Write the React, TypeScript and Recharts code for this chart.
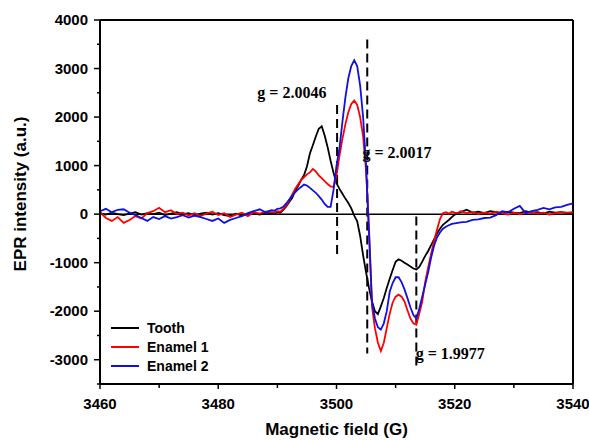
import { LineChart, Line, XAxis, YAxis, ReferenceLine, ReferenceDot, Label } from 'recharts';

// magnetic field (G)
const field = [
  3460, 3461, 3462, 3463, 3464, 3465, 3466, 3467, 3468, 3469,
  3470, 3471, 3472, 3473, 3474, 3475, 3476, 3477, 3478, 3479,
  3480, 3481, 3482, 3483, 3484, 3485, 3486, 3487, 3488, 3489,
  3489.5, 3490, 3490.5, 3491, 3491.5, 3492, 3492.5, 3493, 3493.5, 3494,
  3494.5, 3495, 3495.5, 3496, 3496.5, 3497, 3497.5, 3498, 3498.5, 3499,
  3499.5, 3500, 3500.5, 3501, 3501.5, 3502, 3502.5, 3503, 3503.5, 3504,
  3504.5, 3505, 3505.5, 3506, 3506.5, 3507, 3507.5, 3508, 3508.5, 3509,
  3509.5, 3510, 3510.5, 3511, 3511.5, 3512, 3512.5, 3513, 3513.5, 3514,
  3514.5, 3515, 3515.5, 3516, 3516.5, 3517, 3517.5, 3518, 3518.5, 3519,
  3519.5, 3520, 3520.5, 3521,
  3522, 3523, 3524, 3525, 3526, 3527, 3528, 3529, 3530, 3531,
  3532, 3533, 3534, 3535, 3536, 3537, 3538, 3539, 3540,
];

const tooth = [
  20, -10, 30, 0, -20, 10, 40, -10, 20, 0,
  30, -20, 10, 40, 0, 20, -30, 10, 30, -10,
  20, -20, -40, 10, -30, 0, 20, -10, 30, 20,
  10, 40, 30, 90, 160, 250, 330, 480, 580, 700,
  800, 980, 1250, 1420, 1600, 1760, 1810, 1620, 1380, 1100,
  850, 640, 520, 420, 320, 230, 120, -30, -150, -450,
  -850, -1200, -1520, -1800, -2000, -2060, -1900, -1730, -1520, -1330,
  -1150, -980, -930, -960, -1000, -1040, -1080, -1120, -1140, -1090,
  -980, -860, -760, -640, -520, -400, -300, -220, -170, -120,
  -60, -10, 20, 40,
  90, 30, 50, 20, 60, 40, 10, 50, 30, 20,
  60, 30, 40, 10, 50, 30, 40, 20, 30,
];

const enamel1 = [
  40, -80, -140, -60, -180, -120, -40, -90, 20, 60,
  130, 40, 80, 0, 30, -30, 20, -40, 10, 50,
  -20, 20, -60, -10, 30, -40, 40, 10, 50, 40,
  30, 60, 50, 110, 180, 280, 400, 520, 610, 700,
  760, 820, 860, 930, 880, 800, 740, 680, 620, 570,
  560, 800, 1200, 1550, 1850, 2100, 2270, 2340, 2250, 2000,
  1600, 900, -300, -1900, -2350, -2650, -2820, -2650, -2350, -2050,
  -1820, -1700, -1660, -1700, -1800, -1980, -2150, -2250, -2280, -2050,
  -1800, -1400, -1100, -820, -560, -320, -100, 20, 40, 10,
  50, 30, 20, 60,
  20, 40, 0, 30, 10, 50, 20, -10, 30, 0,
  20, 40, 10, 30, -10, 20, 40, 30, 40,
];

const enamel2 = [
  60, 110, 40, 90, 100, 30, -20, -80, -140, -60,
  -100, -40, -90, -60, -20, -70, -30, -60, -100, -140,
  -90, -180, -120, -80, -40, 20, 60, 100, 40, 80,
  70, 110, 120, 150, 220, 300, 380, 450, 510, 560,
  610, 590, 540, 490, 440, 370, 300, 210, 150, 150,
  500, 1000, 1350, 1900, 2400, 2800, 3050, 3170, 3050, 2650,
  2000, 1000, -400, -1800, -2150, -2330, -2380, -2250, -2000, -1600,
  -1420, -1300, -1300, -1400, -1550, -1730, -1920, -2080, -2150, -1950,
  -1700, -1450, -1200, -900, -650, -480, -380, -300, -260, -230,
  -200, -190, -180, -170,
  -160, -120, -110, -80, -70, -20, 60, 40, 110, 170,
  20, 60, 90, 130, 100, 140, 150, 190, 220,
];

const xTicks = [3460, 3470, 3480, 3490, 3500, 3510, 3520, 3530, 3540];
const xLabels = [3460, 3480, 3500, 3520, 3540];
const yTicks = [-3500, -3000, -2500, -2000, -1500, -1000, -500, 0, 500, 1000, 1500, 2000, 2500, 3000, 3500, 4000];
const yLabels = [-3000, -2000, -1000, 0, 1000, 2000, 3000, 4000];

// dashed markers: field, top, bottom
const gLines = [
  { x: 3500.1, top: 2250, bottom: -900 },
  { x: 3505.2, top: 3600, bottom: -2870 },
  { x: 3513.5, top: -50, bottom: -3170 },
];
const gNotes = [
  { text: 'g = 2.0046', x: 3486.6, y: 2500 },
  { text: 'g = 2.0017', x: 3504.4, y: 1260 },
  { text: 'g = 1.9977', x: 3513.4, y: -2870 },
];

const series = [
  { key: 'tooth', name: 'Tooth', color: '#000000' },
  { key: 'enamel1', name: 'Enamel 1', color: '#ff0000' },
  { key: 'enamel2', name: 'Enamel 2', color: '#1010e0' },
];

const data = field.map((f, i) => ({ field: f, tooth: tooth[i], enamel1: enamel1[i], enamel2: enamel2[i] }));

const sans = '"Liberation Sans", Arial, sans-serif';
const serif = '"Liberation Serif", "Times New Roman", serif';
const frame = { stroke: '#000', strokeWidth: 2 };

const XTick = ({ x, y, payload }: any) => {
  const major = xLabels.includes(payload.value);
  return (
    <g>
      <line x1={x} y1={y} x2={x} y2={y + (major ? 5 : 4)} stroke="#000" strokeWidth={1.5} />
      {major && (
        <text x={x} y={y + 25} textAnchor="middle" fontSize={15} fontWeight="bold" fontFamily={sans} fill="#000">
          {payload.value}
        </text>
      )}
    </g>
  );
};

const YTick = ({ x, y, payload }: any) => {
  const major = yLabels.includes(payload.value);
  return (
    <g>
      <line x1={x} y1={y} x2={x - (major ? 6 : 3)} y2={y} stroke="#000" strokeWidth={1.5} />
      {major && (
        <text x={x - 12} y={y + 5} textAnchor="end" fontSize={15} fontWeight="bold" fontFamily={sans} fill="#000">
          {payload.value}
        </text>
      )}
    </g>
  );
};

export default function App() {
  return (
    <div style={{ position: 'absolute', left: 0, top: 0, width: 589, height: 440, background: '#fff' }}>
      <LineChart width={589} height={440} data={data} margin={{ top: 20, right: 16, bottom: 0, left: 40 }}>
        <XAxis
          dataKey="field"
          type="number"
          domain={[3460, 3540]}
          ticks={xTicks}
          interval={0}
          axisLine={frame}
          tickLine={false}
          tickSize={0}
          tickMargin={0}
          tick={<XTick />}
          height={56}
        >
          <Label
            content={({ viewBox }: any) => (
              <text
                x={viewBox.x + viewBox.width / 2}
                y={viewBox.y + 51}
                textAnchor="middle"
                fontSize={17}
                fontWeight="bold"
                fontFamily={sans}
                fill="#000"
              >
                Magnetic field (G)
              </text>
            )}
          />
        </XAxis>
        <YAxis
          type="number"
          domain={[-3500, 4000]}
          ticks={yTicks}
          interval={0}
          width={60}
          axisLine={frame}
          tickLine={false}
          tickSize={0}
          tickMargin={0}
          tick={<YTick />}
        >
          <Label
            content={({ viewBox }: any) => {
              const cx = viewBox.x - 20;
              const cy = viewBox.y + viewBox.height / 2 - 8;
              return (
                <text
                  x={cx}
                  y={cy}
                  transform={`rotate(-90, ${cx}, ${cy})`}
                  textAnchor="middle"
                  dominantBaseline="central"
                  fontSize={17}
                  fontWeight="bold"
                  fontFamily={sans}
                  fill="#000"
                >
                  EPR intensity (a.u.)
                </text>
              );
            }}
          />
        </YAxis>
        {/* top and right edges of the plot box */}
        <ReferenceLine y={4000} stroke="#000" strokeWidth={2} />
        <ReferenceLine x={3540} stroke="#000" strokeWidth={2} />
        <ReferenceLine y={0} stroke="#000" strokeWidth={1.5} />
        {gLines.map((g) => (
          <ReferenceLine
            key={g.x}
            segment={[{ x: g.x, y: g.top }, { x: g.x, y: g.bottom }]}
            stroke="#000"
            strokeWidth={2}
            strokeDasharray="9 5"
          />
        ))}
        {series.map((s) => (
          <Line
            key={s.key}
            type="linear"
            dataKey={s.key}
            name={s.name}
            stroke={s.color}
            strokeWidth={1.8}
            dot={false}
            isAnimationActive={false}
          />
        ))}
        {gNotes.map((n) => (
          <ReferenceDot
            key={n.text}
            x={n.x}
            y={n.y}
            r={0}
            shape={(p: any) => (
              <text
                x={p.cx}
                y={p.cy}
                dominantBaseline="central"
                fontSize={16}
                fontWeight="bold"
                fontFamily={serif}
                fill="#000"
              >
                {n.text}
              </text>
            )}
          />
        ))}
      </LineChart>
      <div style={{ position: 'absolute', left: 111, top: 319, fontFamily: sans, fontWeight: 'bold', fontSize: 14 }}>
        {series.map((s) => (
          <div key={s.key} style={{ display: 'flex', alignItems: 'center', height: 18.7 }}>
            <span style={{ display: 'inline-block', width: 28, height: 2, background: s.color, marginRight: 8 }} />
            <span>{s.name}</span>
          </div>
        ))}
      </div>
    </div>
  );
}
